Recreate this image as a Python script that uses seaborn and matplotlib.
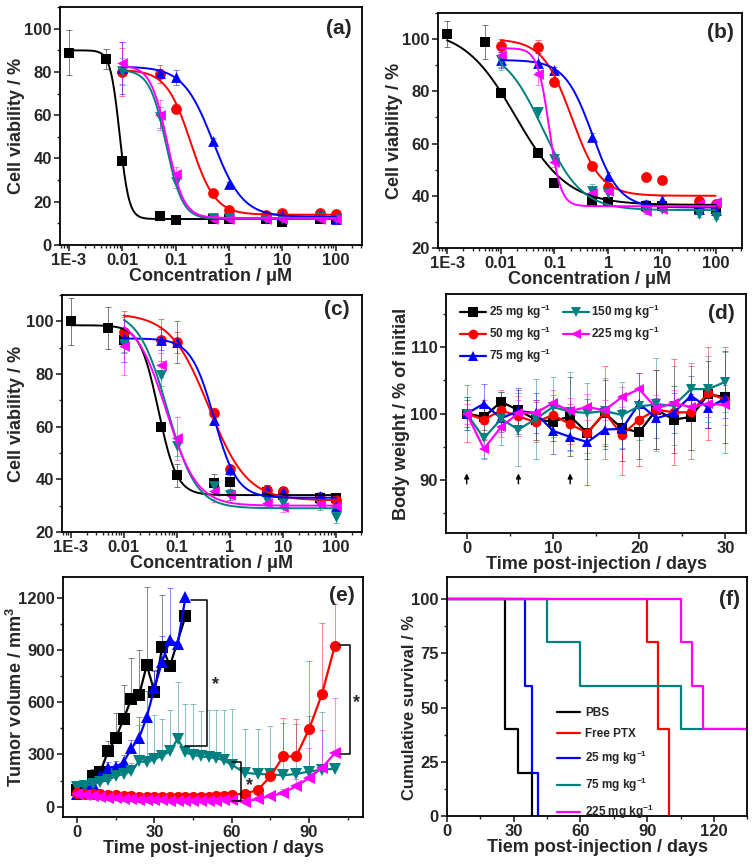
import numpy as np
import matplotlib
matplotlib.use("Agg")
import matplotlib.pyplot as plt
import seaborn as sns
from matplotlib.ticker import FixedLocator, FixedFormatter, MultipleLocator, LogLocator, NullFormatter

sns.set_theme(style="ticks")
plt.rcParams['font.family'] = ['Liberation Sans', 'DejaVu Sans']
plt.rcParams['font.weight'] = 'bold'
plt.rcParams['axes.labelweight'] = 'bold'
plt.rcParams['mathtext.fontset'] = 'custom'
plt.rcParams['mathtext.rm'] = 'Liberation Sans:bold'
plt.rcParams['mathtext.bf'] = 'Liberation Sans:bold'
plt.rcParams['mathtext.default'] = 'bf'

colors = ['#000000', '#FF0000', '#0000FF', '#008080', '#FF00FF']
markers = ['s', 'o', '^', 'v', '<']

# ---- cell viability (a, b, c) ----
conc = [0.001, 0.005, 0.01, 0.05, 0.1, 0.5, 1, 5, 10, 50, 100]
conc_sub = conc[2:]

a_black = [89, 86, 39, 13.5, 11.5, 12, 12, 12, 10.5, 12, 12]
a_red = [80, 79, 63, 24, 16, 14, 15, 15, 14.5]
a_blue = [82, 79.5, 77.5, 48, 28, 14, 14, 14, 12]
a_teal = [80.5, 59, 29, 12.5, 12.5, 12, 12, 13, 12]
a_mag = [84, 60, 33, 12, 12, 12, 12, 12, 12]
a_err = [[10.5, 4.5, 1.5, 1, 1, 1, 1, 1, 1, 1, 1],
         [11, 4, 2, 1, 1, 1, 1, 1, 1],
         [12, 2, 3.5, 1.5, 1, 1, 1, 1, 1],
         [6, 5, 2.5, 1, 1, 1, 1, 1, 1],
         [10, 7, 3, 1, 1, 1, 1, 1, 1]]
# fitted dose-response parameters: top, bottom, log IC50, hill slope
a_fits = [(90, 12, -2.05, 5), (81, 14, -0.72, 1.9), (82.5, 13, -0.3, 1.55),
          (81, 12, -1.18, 2.8), (83, 12.5, -1.16, 2.8)]

b_black = [102, 99, 79.5, 56.5, 45, 38, 37.5, 36, 36, 35, 35]
b_red = [97.5, 97, 83.5, 51.5, 43.5, 47, 46, 38, 37]
b_blue = [92, 91, 88, 62.5, 47.5, 37, 38.5, 35, 34.5]
b_teal = [92, 72, 54, 42, 41, 35, 35, 33, 32]
b_mag = [94, 86.5, 53, 41, 42, 34, 35, 37, 37.5]
b_err = [[5, 6.5, 1.5, 1.5, 1, 1, 1, 1, 1, 1, 1],
         [2.5, 2.5, 1.5, 1.5, 1.5, 1.5, 1.5, 1.5, 1.5],
         [3, 3.5, 1.5, 1.5, 1.5, 1.5, 1.5, 1.5, 1.5],
         [4, 2, 1.5, 2.5, 1.5, 1, 1, 1, 1],
         [4.5, 4, 2, 1.5, 1.5, 1, 1, 1, 1]]
b_fits = [(104, 36.5, -1.72, 0.9), (100, 40, -0.68, 1.6), (92, 35.5, -0.3, 1.7),
          (97, 34.5, -1.22, 1.2), (96.5, 36, -1.1, 4)]

c_black = [100, 97.5, 93, 60, 41.5, 38.5, 39, 35, 34, 33, 33]
c_red = [96, 93, 92, 65, 44, 36, 35.5, 33, 32]
c_blue = [93.5, 93, 92, 62.5, 44, 36, 35, 33.5, 30]
c_teal = [91.5, 79.5, 52.5, 37.5, 34, 32, 31, 30.5, 25.5]
c_mag = [90.5, 83.5, 55.5, 35.5, 34, 31, 29.5, 31, 30]
c_err = [[9, 8, 2, 1.5, 4.5, 3.5, 2.5, 1.5, 1.5, 1, 1],
         [8, 8, 4, 2, 1.5, 2, 1.5, 1.5, 2],
         [9, 4, 8, 2, 1.5, 2, 1.5, 1.5, 1.5],
         [3, 4, 3.5, 2, 2, 2, 2, 2, 2],
         [11, 4.5, 8, 4, 2, 2, 2, 2, 2]]
c_fits = [(98.5, 34, -1.35, 2.5), (103, 32, -0.4, 1.2), (93.5, 33, -0.3, 2.0),
          (104, 29, -1.18, 1.6), (102, 30, -1.2, 1.5)]

# ---- body weight (d) ----
d_days = list(range(0, 31, 2))
d_labels = ['25 mg kg$^{-1}$', '50 mg kg$^{-1}$', '75 mg kg$^{-1}$',
            '150 mg kg$^{-1}$', '225 mg kg$^{-1}$']
d_25 = [100, 99.5, 101.8, 100.5, 99.1, 98.8, 99.6, 97.1, 100.1, 97.8, 97.2, 100.6, 99.1, 99.5, 102.9, 102.5]
d_50 = [100, 99.1, 100.5, 99.6, 98.7, 99.8, 98.4, 97.1, 100.2, 96.8, 99.1, 100.6, 100.2, 100.2, 103.1, 102.1]
d_75 = [100, 101.5, 99.3, 100.4, 100.1, 97.4, 96.5, 95.7, 97.6, 97.7, 101.5, 99.3, 100.1, 102.7, 100.9, 102.3]
d_150 = [100, 96.3, 99.2, 97.6, 99.2, 101, 100.3, 100.1, 100.4, 99.8, 101.1, 101.4, 101.2, 103.7, 103.7, 104.8]
d_225 = [100, 94.7, 98, 100.1, 100.1, 101.6, 100.4, 101, 100.5, 102.5, 103.7, 100.8, 101.6, 101, 101.5, 101.3]
d_err = [[2, 2, 1.5, 3, 3, 3, 6, 4, 5, 5, 4, 6, 5, 5, 5, 7],
         [4.3, 3, 3, 3, 3, 3, 3, 3, 7, 6, 7, 6, 8, 7, 7, 8],
         [2.5, 3, 2, 3.5, 3, 3.5, 2, 6.5, 3, 3, 2, 3, 3, 3, 3, 3],
         [2.5, 3, 4, 5.5, 6, 4.5, 6, 4.5, 5, 5, 5, 7, 6, 4, 5, 4.5],
         [1.5, 1.5, 1.5, 2, 2, 2, 2, 2, 1.5, 1.5, 2.5, 2, 2, 2, 2, 3]]
d_arrows = [0, 6, 12]

# ---- tumor volume (e) ----
e_days_bk = [0, 3, 6, 9, 12, 15, 18, 21, 24, 27, 30, 33, 36, 42]
e_black = [95, 115, 175, 200, 320, 395, 505, 620, 640, 815, 660, 920, 810, 1095]
e_black_err = [20, 30, 40, 35, 60, 145, 195, 235, 260, 450, 120, 300, 0, 0]
e_days_bl = [0, 3, 6, 9, 12, 15, 18, 21, 24, 27, 30, 33, 36, 39, 42]
e_blue = [75, 90, 130, 175, 225, 230, 255, 335, 395, 515, 685, 835, 960, 935, 1205]
e_blue_err = [10, 15, 20, 25, 30, 30, 40, 50, 120, 150, 100, 150, 300, 0, 0]
e_days = list(range(0, 61, 3)) + list(range(65, 101, 5))
e_teal = [115, 120, 130, 142, 155, 174, 189, 203, 260, 256, 274, 293, 318, 390, 312,
          298, 289, 285, 279, 266, 241, 195, 188, 185, 180, 188, 202, 212, 218]
e_teal_err = [20, 20, 20, 20, 20, 30, 30, 50, 210, 245, 255, 210, 240, 330, 280,
              290, 260, 270, 280, 290, 320, 250, 260, 280, 300, 290, 320, 330, 0]
e_red = [80, 75, 72, 70, 68, 65, 62, 60, 58, 57, 55, 54, 54, 54, 55, 56, 57, 58, 60, 63, 68,
         75, 94, 174, 289, 289, 446, 647, 926]
e_red_err = [10] * 21 + [10, 20, 20, 220, 215, 395, 410, 240]
e_mag = [70, 65, 60, 55, 50, 47, 45, 42, 40, 38, 36, 35, 34, 33, 32, 32, 32, 33, 34, 36, 40,
         27, 44, 59, 79, 117, 165, 222, 308]
e_mag_err = [8] * 21 + [5, 10, 15, 20, 40, 175, 220, 320]
e_brackets = [([44, 50.2, 50.2, 42], [1190, 1190, 350, 350], (53.5, 700)),
              ([60, 63.4, 63.4, 60], [256, 256, 30, 30], (67, 120)),
              ([101.5, 105.8, 105.8, 102], [928, 928, 300, 300], (108.5, 600))]

# ---- survival (f) ----
f_labels = ['PBS', 'Free PTX', '25 mg kg$^{-1}$', '75 mg kg$^{-1}$', '225 mg kg$^{-1}$']
f_colors = ['#000000', '#FF0000', '#0000FF', '#008080', '#FF00FF']
f_time = [[0, 26, 32, 38], [0, 90, 95, 100], [0, 35, 38, 41],
          [0, 45, 60, 105, 135], [0, 105, 110, 115, 135]]
f_surv = [[100, 40, 20, 0], [100, 80, 40, 0], [100, 60, 20, 0],
          [100, 80, 60, 40, 40], [100, 80, 60, 40, 40]]


def style_axes(ax, ylab_x, ylab_y=0.5):
    for s in ax.spines.values():
        s.set_linewidth(1.3)
        s.set_color('black')
    ax.tick_params(which='major', direction='out', length=4, width=1.2,
                   labelsize=12, top=False, right=False, pad=2)
    ax.tick_params(which='minor', direction='out', length=2.5, width=1.0,
                   top=False, right=False)
    for lab in ax.get_xticklabels() + ax.get_yticklabels():
        lab.set_fontweight('bold')
    ax.yaxis.set_label_coords(ylab_x, ylab_y)


def panel_label(ax, txt, x, y):
    ax.text(x, y, txt, transform=ax.transAxes, ha='right', va='center',
            fontsize=15, fontweight='bold')


def dose_panel(ax, series, errs, fits, ylo, ylab_x):
    for i, vals in enumerate(series):
        xs = conc if i == 0 else conc_sub
        top, bot, lx0, p = fits[i]
        xf = np.logspace(np.log10(xs[0]), np.log10(xs[-1]), 300)
        yf = bot + (top - bot) / (1 + 10 ** ((np.log10(xf) - lx0) * p))
        ax.errorbar(xs, vals, yerr=errs[i], fmt='none', ecolor=colors[i],
                    elinewidth=0.6, capsize=2, capthick=0.6, alpha=0.6, zorder=2)
        sns.scatterplot(x=xs, y=vals, marker=markers[i], color=colors[i], s=60,
                        linewidth=0, ax=ax, zorder=3)
        sns.lineplot(x=xf, y=yf, color=colors[i], linewidth=1.4, ax=ax, zorder=4)
    ax.set_xscale('log')
    ax.set_xlim(6.8e-4, 310)
    ax.set_ylim(ylo, 110)
    ax.xaxis.set_major_locator(FixedLocator([1e-3, 1e-2, 1e-1, 1, 10, 100]))
    ax.xaxis.set_major_formatter(FixedFormatter(['1E-3', '0.01', '0.1', '1', '10', '100']))
    ax.xaxis.set_minor_locator(LogLocator(base=10, subs=np.arange(2, 10)))
    ax.xaxis.set_minor_formatter(NullFormatter())
    ax.yaxis.set_major_locator(MultipleLocator(20))
    ax.yaxis.set_minor_locator(MultipleLocator(10))
    ax.set_xlabel('Concentration / \u03bcM', fontsize=13, labelpad=0)
    ax.set_ylabel('Cell viability / %', fontsize=13)
    style_axes(ax, ylab_x)


fig = plt.figure(figsize=(7.54, 8.65), dpi=100)
ax_a = fig.add_axes([0.0796, 0.7168, 0.4005, 0.275])
ax_b = fig.add_axes([0.581, 0.7133, 0.403, 0.2717])
ax_c = fig.add_axes([0.0822, 0.385, 0.398, 0.274])
ax_d = fig.add_axes([0.5915, 0.3838, 0.398, 0.276])
ax_e = fig.add_axes([0.0836, 0.0555, 0.398, 0.277])
ax_f = fig.add_axes([0.593, 0.0566, 0.398, 0.276])

dose_panel(ax_a, [a_black, a_red, a_blue, a_teal, a_mag], a_err, a_fits, 0, -0.116)
panel_label(ax_a, '(a)', 0.965, 0.91)
dose_panel(ax_b, [b_black, b_red, b_blue, b_teal, b_mag], b_err, b_fits, 20, -0.115)
panel_label(ax_b, '(b)', 0.975, 0.915)
dose_panel(ax_c, [c_black, c_red, c_blue, c_teal, c_mag], c_err, c_fits, 20, -0.123)
panel_label(ax_c, '(c)', 0.96, 0.94)

# (d) body weight
for i, vals in enumerate([d_25, d_50, d_75, d_150, d_225]):
    ax_d.errorbar(d_days, vals, yerr=d_err[i], fmt='none', ecolor=colors[i],
                  elinewidth=0.6, capsize=2.5, capthick=0.6, alpha=0.55, zorder=2)
    sns.lineplot(x=d_days, y=vals, color=colors[i], marker=markers[i], markersize=7,
                 markeredgewidth=0, linewidth=1.6, label=d_labels[i], ax=ax_d, zorder=3)
for xa in d_arrows:
    ax_d.annotate('', xy=(xa, 91.4), xytext=(xa, 89.0),
                  arrowprops=dict(arrowstyle='-|>', color='black', lw=1.0, mutation_scale=7))
ax_d.set_xlim(-2.4, 32.4)
ax_d.set_ylim(82, 118)
ax_d.xaxis.set_major_locator(MultipleLocator(10))
ax_d.xaxis.set_minor_locator(MultipleLocator(5))
ax_d.yaxis.set_major_locator(FixedLocator([90, 100, 110]))
ax_d.yaxis.set_minor_locator(FixedLocator([85, 95, 105, 115]))
ax_d.set_xlabel('Time post-injection / days', fontsize=13, labelpad=0)
ax_d.set_ylabel('Body weight / % of initial', fontsize=13)
ax_d.legend(ncol=2, loc='upper left', bbox_to_anchor=(0.02, 1.0), frameon=False,
            fontsize=8.5, handlelength=2.2, handletextpad=0.2, columnspacing=1.0,
            labelspacing=0.35, borderaxespad=0.3)
style_axes(ax_d, -0.12)
panel_label(ax_d, '(d)', 0.963, 0.92)

# (e) tumor volume
e_sets = [(e_days_bk, e_black, e_black_err, 0), (e_days_bl, e_blue, e_blue_err, 2),
          (e_days, e_teal, e_teal_err, 3), (e_days, e_red, e_red_err, 1),
          (e_days, e_mag, e_mag_err, 4)]
for xs, vals, err, ci in e_sets:
    ax_e.errorbar(xs, vals, yerr=[np.zeros(len(err)), err], fmt='none', ecolor=colors[ci],
                  elinewidth=0.6, capsize=2.5, capthick=0.6, alpha=0.55, zorder=2)
for xs, vals, err, ci in e_sets:
    sns.lineplot(x=xs, y=vals, color=colors[ci], marker=markers[ci], markersize=8,
                 markeredgewidth=0, linewidth=1.6, ax=ax_e, zorder=3)
for bx, by, star in e_brackets:
    ax_e.plot(bx, by, color='black', lw=1.1, zorder=4)
    ax_e.text(star[0], star[1], '*', fontsize=13, fontweight='bold', ha='center', va='center')
ax_e.set_xlim(-5.5, 111)
ax_e.set_ylim(-60, 1320)
ax_e.xaxis.set_major_locator(MultipleLocator(30))
ax_e.xaxis.set_minor_locator(MultipleLocator(15))
ax_e.yaxis.set_major_locator(MultipleLocator(300))
ax_e.yaxis.set_minor_locator(MultipleLocator(150))
ax_e.set_xlabel('Time post-injection / days', fontsize=13, labelpad=0)
ax_e.set_ylabel('Tumor volume / mm$^3$', fontsize=13)
style_axes(ax_e, -0.125)
panel_label(ax_e, '(e)', 0.973, 0.925)

# (f) survival
for i in range(5):
    sns.lineplot(x=f_time[i], y=f_surv[i], color=f_colors[i], drawstyle='steps-post',
                 linewidth=1.6, label=f_labels[i], ax=ax_f)
ax_f.set_xlim(0, 135)
ax_f.set_ylim(0, 110)
ax_f.xaxis.set_major_locator(MultipleLocator(30))
ax_f.xaxis.set_minor_locator(MultipleLocator(15))
ax_f.yaxis.set_major_locator(FixedLocator([0, 25, 50, 75, 100]))
ax_f.yaxis.set_minor_locator(FixedLocator([12.5, 37.5, 62.5, 87.5]))
ax_f.set_xlabel('Tiem post-injection / days', fontsize=13, labelpad=0)
ax_f.set_ylabel('Cumulative survival / %', fontsize=12)
ax_f.legend(loc='upper left', bbox_to_anchor=(0.33, 0.5), frameon=False, fontsize=8.5,
            handlelength=2.0, handletextpad=0.4, labelspacing=0.75)
style_axes(ax_f, -0.1, 0.455)
panel_label(ax_f, '(f)', 0.977, 0.908)

fig.savefig('out.png', dpi=100)
